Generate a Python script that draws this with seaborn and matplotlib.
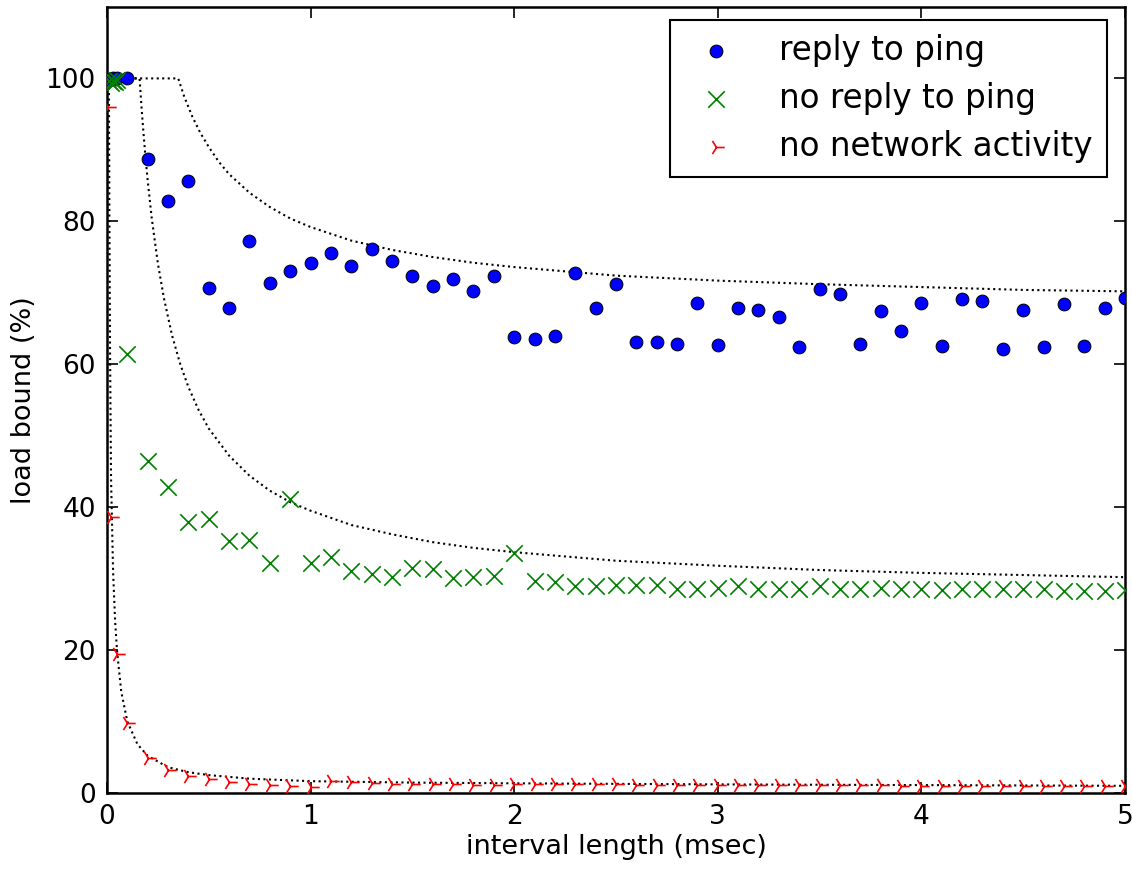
import numpy as np
import pandas as pd
import matplotlib
matplotlib.use("Agg")
import matplotlib.pyplot as plt
import seaborn as sns

# ---- data ----
reply_x = [0.01, 0.02, 0.03, 0.04, 0.05,
           0.1, 0.2, 0.3, 0.4, 0.5, 0.6, 0.7, 0.8, 0.9, 1.0,
           1.1, 1.2, 1.3, 1.4, 1.5, 1.6, 1.7, 1.8, 1.9, 2.0,
           2.1, 2.2, 2.3, 2.4, 2.5, 2.6, 2.7, 2.8, 2.9, 3.0,
           3.1, 3.2, 3.3, 3.4, 3.5, 3.6, 3.7, 3.8, 3.9, 4.0,
           4.1, 4.2, 4.3, 4.4, 4.5, 4.6, 4.7, 4.8, 4.9, 5.0]
reply_y = [99.8, 99.9, 100.0, 99.9, 100.0,
           100.0, 88.7, 82.8, 85.7, 70.6, 67.8, 77.3, 71.3, 73.0, 74.1,
           75.5, 73.7, 76.1, 74.4, 72.4, 71.0, 71.9, 70.2, 72.4, 63.8,
           63.5, 63.9, 72.7, 67.8, 71.2, 63.1, 63.1, 62.8, 68.5, 62.7,
           67.8, 67.6, 66.6, 62.4, 70.5, 69.8, 62.8, 67.4, 64.6, 68.5,
           62.5, 69.1, 68.8, 62.2, 67.6, 62.4, 68.4, 62.5, 67.8, 69.2]

noreply_x = [0.01, 0.02, 0.03, 0.04, 0.05,
             0.1, 0.2, 0.3, 0.4, 0.5, 0.6, 0.7, 0.8, 0.9, 1.0,
             1.1, 1.2, 1.3, 1.4, 1.5, 1.6, 1.7, 1.8, 1.9, 2.0,
             2.1, 2.2, 2.3, 2.4, 2.5, 2.6, 2.7, 2.8, 2.9, 3.0,
             3.1, 3.2, 3.3, 3.4, 3.5, 3.6, 3.7, 3.8, 3.9, 4.0,
             4.1, 4.2, 4.3, 4.4, 4.5, 4.6, 4.7, 4.8, 4.9, 5.0]
noreply_y = [99.6, 99.4, 99.7, 99.5, 99.8,
             61.5, 46.4, 42.8, 37.9, 38.3, 35.2, 35.4, 32.2, 41.1, 32.2,
             33.0, 31.0, 30.6, 30.2, 31.5, 31.3, 30.1, 30.2, 30.3, 33.6,
             29.7, 29.5, 29.0, 29.0, 29.1, 29.1, 29.1, 28.5, 28.6, 28.7,
             28.9, 28.6, 28.6, 28.6, 28.9, 28.6, 28.5, 28.7, 28.5, 28.6,
             28.4, 28.5, 28.5, 28.5, 28.5, 28.5, 28.3, 28.3, 28.3, 28.4]

idle_x = [0.005, 0.02, 0.05,
          0.1, 0.2, 0.3, 0.4, 0.5, 0.6, 0.7, 0.8, 0.9, 1.0,
          1.1, 1.2, 1.3, 1.4, 1.5, 1.6, 1.7, 1.8, 1.9, 2.0,
          2.1, 2.2, 2.3, 2.4, 2.5, 2.6, 2.7, 2.8, 2.9, 3.0,
          3.1, 3.2, 3.3, 3.4, 3.5, 3.6, 3.7, 3.8, 3.9, 4.0,
          4.1, 4.2, 4.3, 4.4, 4.5, 4.6, 4.7, 4.8, 4.9, 5.0]
idle_y = [96.0, 38.6, 19.5,
          9.8, 4.85, 3.2, 2.4, 1.9, 1.6, 1.3, 1.1, 1.0, 0.9,
          1.7, 1.5, 1.4, 1.3, 1.3, 1.2, 1.2, 1.1, 1.1, 1.2,
          1.3, 1.3, 1.25, 1.2, 1.2, 1.15, 1.15, 1.1, 1.1, 1.1,
          1.1, 1.1, 1.1, 1.05, 1.05, 1.05, 1.05, 1.05, 1.0, 1.0,
          1.0, 1.0, 1.0, 1.0, 1.0, 1.0, 1.0, 1.0, 1.0, 1.0]

# bound curves (dotted)
bound_hi_x = [0.0, 0.35, 0.38, 0.42, 0.46, 0.5, 0.55, 0.6, 0.7, 0.8, 0.9, 1.0,
              1.2, 1.4, 1.6, 1.8, 2.0, 2.5, 3.0, 3.5, 4.0, 4.5, 5.0]
bound_hi_y = [100.0, 100.0, 97.4, 94.6, 92.3, 90.4, 88.3, 86.6, 84.0, 82.0, 80.4, 79.2,
              77.3, 76.0, 75.0, 74.2, 73.6, 72.4, 71.7, 71.2, 70.8, 70.4, 70.2]

bound_mid_x = [0.0, 0.16, 0.17, 0.18, 0.19, 0.2, 0.22, 0.25, 0.28, 0.32, 0.36, 0.4,
               0.45, 0.5, 0.6, 0.7, 0.8, 0.9, 1.0, 1.2, 1.4, 1.6, 1.8, 2.0,
               2.5, 3.0, 3.5, 4.0, 4.5, 5.0]
bound_mid_y = [100.0, 100.0, 95.8, 92.1, 88.7, 85.7, 80.4, 74.1, 69.2, 64.0, 60.0, 56.8,
               53.6, 51.0, 47.2, 44.4, 42.3, 40.7, 39.5, 37.5, 36.2, 35.1, 34.3, 33.7,
               32.5, 31.8, 31.2, 30.8, 30.5, 30.2]

bound_lo_x = [0.0, 0.0095, 0.012, 0.015, 0.02, 0.03, 0.04, 0.05, 0.07, 0.1, 0.15, 0.2,
              0.3, 0.4, 0.5, 0.7, 1.0, 1.5, 2.0, 3.0, 4.0, 5.0]
bound_lo_y = [100.0, 100.0, 80.0, 62.0, 44.0, 31.0, 24.0, 19.7, 14.2, 10.0, 6.8, 5.2,
              3.6, 2.9, 2.5, 2.0, 1.65, 1.45, 1.35, 1.2, 1.1, 1.0]

x_ticks = [0, 1, 2, 3, 4, 5]
y_ticks = [0, 20, 40, 60, 80, 100]

# ---- figure ----
sns.set_style("white")
plt.rcParams["font.family"] = ["DejaVu Sans"]
plt.rcParams["text.color"] = "black"
plt.rcParams["axes.labelcolor"] = "black"
plt.rcParams["xtick.color"] = "black"
plt.rcParams["ytick.color"] = "black"

fig = plt.figure(figsize=(11.32, 8.69), dpi=100)
ax = fig.add_axes([0.0945, 0.0875, 0.8993, 0.9045])

for bx, by in [(bound_hi_x, bound_hi_y), (bound_mid_x, bound_mid_y), (bound_lo_x, bound_lo_y)]:
    sns.lineplot(x=bx, y=by, ax=ax, color="black", linestyle=":", linewidth=1.5,
                 sort=False, estimator=None, legend=False)

sns.scatterplot(x=reply_x, y=reply_y, ax=ax, marker="o", color="blue",
                edgecolor="black", linewidth=0.7, s=85, label="reply to ping", zorder=3)
sns.scatterplot(x=noreply_x, y=noreply_y, ax=ax, marker="x", color="green",
                linewidth=1.2, s=140, label="no reply to ping", zorder=3)
sns.scatterplot(x=idle_x, y=idle_y, ax=ax, marker="4", color="red",
                linewidth=1.2, s=140, label="no network activity", zorder=3)

ax.set_xlim(0, 5)
ax.set_ylim(0, 110)
ax.set_xticks(x_ticks)
ax.set_yticks(y_ticks)
ax.set_xlabel("interval length (msec)", fontsize=19.5, labelpad=3)
ax.set_ylabel("load bound (%)", fontsize=19.5, labelpad=6)
ax.tick_params(axis="both", which="both", direction="in", length=8, width=1.2,
               labelsize=19, top=True, right=True, bottom=True, left=True, pad=8,
               color="black", labelcolor="black")
for sp in ax.spines.values():
    sp.set_visible(True)
    sp.set_color("black")
    sp.set_linewidth(1.8)

leg = ax.legend(loc="upper right", bbox_to_anchor=(0.982, 0.983), fontsize=23.5,
                frameon=True, fancybox=False, edgecolor="black", framealpha=1,
                scatterpoints=1, handlelength=2.0, handletextpad=0.93,
                borderpad=0.42, labelspacing=0.46, borderaxespad=0.0)
leg.get_frame().set_linewidth(1.5)
for t in leg.get_texts():
    t.set_color("black")

fig.savefig("out.png", dpi=100)
